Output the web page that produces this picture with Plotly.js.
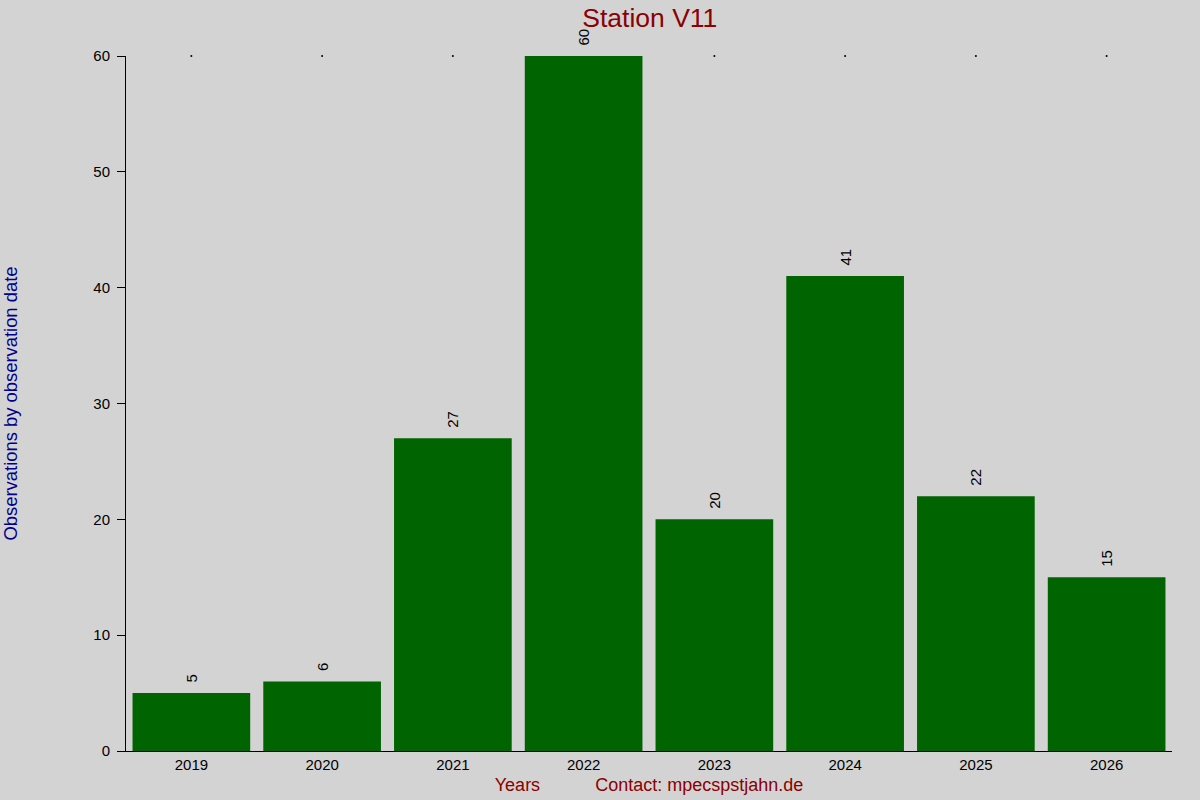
<!DOCTYPE html>
<html>
<head>
<meta charset="utf-8">
<script src="https://cdn.plot.ly/plotly-3.0.1.min.js"></script>
<style>
  body { margin: 0; background: #d3d3d3; }
  #myChart { width: 1200px; height: 800px; }
</style>
</head>
<body>
<div id="myChart"></div>
<script>
const YEARS = ['2019', '2020', '2021', '2022', '2023', '2024', '2025', '2026'];
const OBSERVATIONS = [5, 6, 27, 60, 20, 41, 22, 15];
const Y_MAX = 60;

const NBSP = '\u00a0';

function make_chart() {
    const bars = {
        x: YEARS,
        y: OBSERVATIONS,
        type: 'bar',
        marker: { color: '#006400' },
        text: OBSERVATIONS.map(String),
        // leading space lifts the rotated label a little off the bar
        texttemplate: '\u2002%{text}',
        textposition: 'outside',
        textangle: -90,
        textfont: { color: '#000000', size: 15, family: 'Liberation Sans, Arial, sans-serif' },
        cliponaxis: false,
        hoverinfo: 'x+y'
    };

    // little dots along the top edge, one per year (hidden where a bar reaches the top)
    const dotYears = YEARS.filter((_, i) => OBSERVATIONS[i] < Y_MAX);
    const dots = {
        x: dotYears,
        y: dotYears.map(() => Y_MAX),
        type: 'scatter',
        mode: 'markers',
        marker: { color: '#000000', size: 2 },
        cliponaxis: false,
        hoverinfo: 'skip'
    };

    const layout = {
        width: 1200,
        height: 800,
        font: { family: 'Liberation Sans, Arial, sans-serif', color: '#000000', size: 15 },
        title: {
            text: 'Station V11',
            font: { color: '#8b0000', size: 26.5 },
            x: 0.5415,
            xanchor: 'center',
            y: 0.978,
            yanchor: 'middle'
        },
        xaxis: {
            type: 'category',
            title: {
                text: 'Years' + NBSP.repeat(11) + 'Contact: mpecspstjahn.de',
                font: { color: '#8b0000', size: 18 },
                standoff: 6
            },
            showline: true,
            linecolor: '#000000',
            linewidth: 1,
            ticks: '',
            tickfont: { size: 15 },
            showgrid: false,
            zeroline: false
        },
        yaxis: {
            range: [0, Y_MAX],
            dtick: 10,
            title: {
                text: 'Observations by observation date',
                font: { color: '#00008b', size: 18.4 },
                standoff: 70
            },
            showline: true,
            linecolor: '#000000',
            linewidth: 1,
            ticks: 'outside',
            ticklen: 8,
            tickcolor: '#000000',
            tickfont: { size: 15 },
            ticklabelstandoff: 4,
            showgrid: false,
            zeroline: false
        },
        bargap: 0.1,
        showlegend: false,
        paper_bgcolor: '#d3d3d3',
        plot_bgcolor: '#d3d3d3',
        margin: { t: 56, b: 49, l: 126, r: 28 }
    };

    return [[bars, dots], layout];
}

let hi = make_chart();
Plotly.newPlot('myChart', hi[0], hi[1], { displayModeBar: false });
</script>
</body>
</html>
